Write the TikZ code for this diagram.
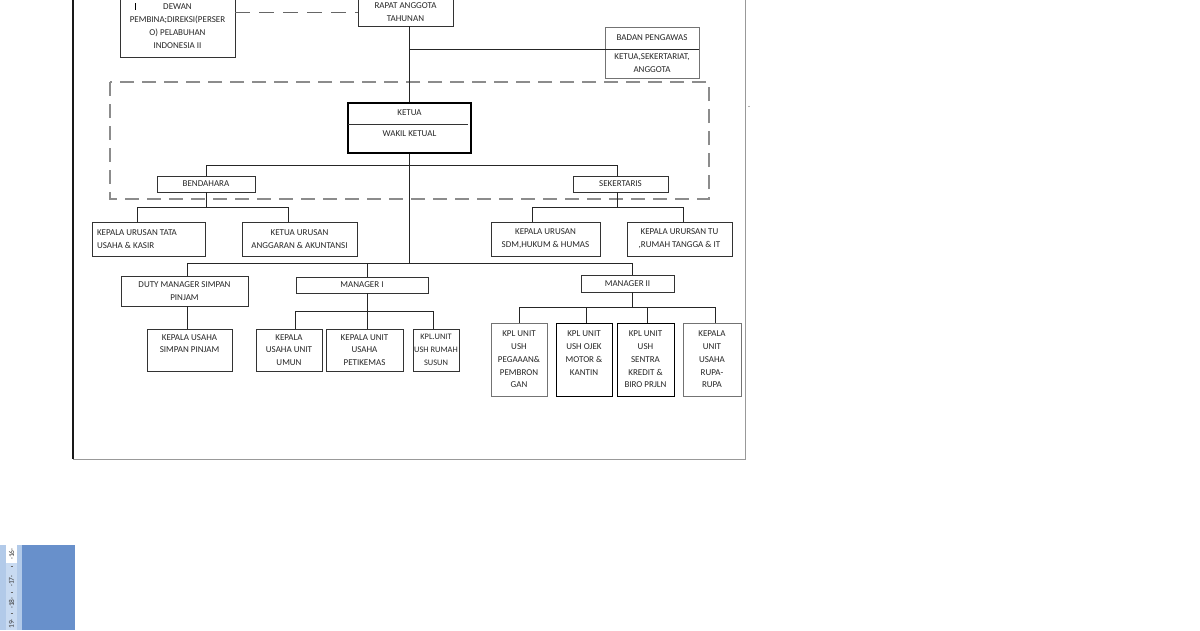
\documentclass[tikz,border=0pt]{standalone}
\usepackage{fontspec}
\setmainfont{Carlito}
\definecolor{rulerEdge}{HTML}{B2CAE9}
\definecolor{rulerLight}{HTML}{C8DAF1}
\definecolor{blueBlk}{HTML}{6890CB}
\newcommand{\orgbox}[7][]{\node[box,#1,minimum width={#4-#2},minimum height={#5-#3}] (#6) at ({(#2+#4)/2},{(#3+#5)/2}) {#7};}
\begin{document}
\begin{tikzpicture}[x=1pt,y=-1pt,
  font=\fontsize{9}{12.8}\selectfont, text=black!85,
  box/.style={draw=black!80, line width=0.8pt, inner sep=0pt, align=center},
  conn/.style={draw=black!85, line width=0.8pt},
  dsh/.style={draw=black!45, line width=1.1pt, dash pattern=on 14pt off 8pt},
  rnum/.style={font=\fontsize{7.5}{8}\selectfont, text=black!75, rotate=90, inner sep=0pt}]
\useasboundingbox (0,0) rectangle (1200,630);

% page frame
\draw[line width=1.2pt, black!90] (73,0) -- (73,459);
\draw[line width=1pt, black!40] (73,459) -- (745,459) -- (745,0);

% big dashed region
\draw[dsh] (110,82) rectangle (709,199);

% boxes
\orgbox{120}{-5}{235}{57}{dewan}{DEWAN\\PEMBINA;DIREKSI(PERSER\\O) PELABUHAN\\INDONESIA II}
\orgbox{358}{-1}{453}{26}{rapat}{RAPAT ANGGOTA\\TAHUNAN}
\orgbox[draw=black!55]{605}{27}{699}{49}{badan}{BADAN PENGAWAS}
\orgbox[draw=black!55]{605}{49}{699}{78}{badanb}{KETUA,SEKERTARIAT,\\ANGGOTA}
\orgbox[line width=1.4pt, draw=black]{348}{103}{471}{153}{ketua}{}
\node[inner sep=0pt] (ketuat) at (409.5,113) {KETUA};
\node[inner sep=0pt] (wakilt) at (409.5,134) {WAKIL KETUAL};
\draw[line width=0.8pt, black!80] (348,124) -- (468,124);
\orgbox{157}{176}{255}{192}{bend}{BENDAHARA}
\orgbox{573}{176}{668}{192}{sek}{SEKERTARIS}
\orgbox[text width=103pt, align=flush left]{92}{222}{205}{256}{tata}{KEPALA URUSAN TATA\\USAHA \& KASIR}
\orgbox{242}{222}{357}{256}{angg}{KETUA URUSAN\\ANGGARAN \& AKUNTANSI}
\orgbox{491}{222}{600}{256}{sdm}{KEPALA URUSAN\\SDM,HUKUM \& HUMAS}
\orgbox{627}{222}{732}{256}{tu}{KEPALA URURSAN TU\\,RUMAH TANGGA \& IT}
\orgbox{121}{276}{248}{306}{duty}{DUTY MANAGER SIMPAN\\PINJAM}
\orgbox{296}{277}{428}{293}{man1}{MANAGER I}
\orgbox{581}{275}{674}{292}{man2}{MANAGER II}
\orgbox{147}{329}{232}{371}{ksp}{KEPALA USAHA\\SIMPAN PINJAM\\\mbox{}}
\orgbox{256}{329}{322}{371}{umun}{KEPALA\\USAHA UNIT\\UMUN}
\orgbox{326}{329}{403}{371}{peti}{KEPALA UNIT\\USAHA\\PETIKEMAS}
\orgbox[font=\fontsize{8.4}{12.8}\selectfont]{413}{329}{459}{371}{rusun}{KPL.UNIT\\USH RUMAH\\SUSUN}
\orgbox[draw=black!55]{491}{323}{547}{396}{peg}{KPL UNIT\\USH\\PEGAAAN\&\\PEMBRON\\GAN}
\orgbox[draw=black]{556}{323}{612}{396}{ojek}{KPL UNIT\\USH OJEK\\MOTOR \&\\KANTIN\\\mbox{}}
\orgbox[draw=black]{617}{323}{674}{396}{sentra}{KPL UNIT\\USH\\SENTRA\\KREDIT \&\\BIRO PRJLN}
\orgbox[draw=black!55]{683}{323}{741}{396}{rupa}{KEPALA\\UNIT\\USAHA\\RUPA-\\RUPA}

% junction levels
\coordinate (l1) at (0,165);
\coordinate (l2) at (0,207);
\coordinate (l3) at (0,263);
\coordinate (l4) at (0,311);
\coordinate (l5) at (0,307);

% connectors
\draw[dsh, draw=black!60, line width=1pt, dash pattern=on 15pt off 9pt] (dewan.east |- rapat.center) -- (rapat.west |- rapat.center);
\draw[conn] (rapat.south -| ketua.north) -- (ketua.north);
\draw[conn] (ketua.north |- badan.south) -- (badan.south east);
\draw[conn] (ketua.south) -- (ketua.south |- l3);
\draw[conn] (bend.north) -- (bend.north |- l1) -- ([xshift=-3.5pt]sek.north |- l1) -- ([xshift=-3.5pt]sek.north);
\draw[conn] (bend.south) -- (bend.south |- l2);
\draw[conn] ([xshift=-11.5pt]tata.north) -- ([xshift=-11.5pt]tata.north |- l2) -- ([xshift=-11.5pt]angg.north |- l2) -- ([xshift=-11.5pt]angg.north);
\draw[conn] ([xshift=-3.5pt]sek.south) -- ([xshift=-3.5pt]sek.south |- l2);
\draw[conn] ([xshift=-13.5pt]sdm.north) -- ([xshift=-13.5pt]sdm.north |- l2) -- ([xshift=3.5pt]tu.north |- l2) -- ([xshift=3.5pt]tu.north);
\draw[conn] ([xshift=2.5pt]duty.north) -- ([xshift=2.5pt]duty.north |- l3) -- ([xshift=4.5pt]man2.north |- l3) -- ([xshift=4.5pt]man2.north);
\draw[conn] ([xshift=5pt]man1.north) -- ([xshift=5pt]man1.north |- l3);
\draw[conn] ([xshift=2.5pt]duty.south) -- ([xshift=2.5pt]duty.south |- ksp.north);
\draw[conn] ([xshift=5pt]man1.south) -- ([xshift=5pt]man1.south |- peti.north);
\draw[conn] ([xshift=6pt]umun.north) -- ([xshift=6pt]umun.north |- l4) -- ([xshift=-3pt]rusun.north |- l4) -- ([xshift=-3pt]rusun.north);
\draw[conn] ([xshift=4.5pt]man2.south) -- ([xshift=4.5pt]man2.south |- l5);
\draw[conn] (peg.north) -- (peg.north |- l5) -- ([xshift=3pt]rupa.north |- l5) -- ([xshift=3pt]rupa.north);
\draw[conn] ([xshift=2pt]ojek.north) -- ([xshift=2pt]ojek.north |- l5);
\draw[conn] ([xshift=1.5pt]sentra.north) -- ([xshift=1.5pt]sentra.north |- l5);

% text cursor and stray dot
\draw[line width=1.4pt, black] (135.5,3) -- (135.5,10);
\fill[black!60] (749,106.5) circle (0.6pt);

% ruler and blue panel at bottom left
\fill[rulerEdge] (0,545) rectangle (22,630);
\fill[rulerLight] (6,545) rectangle (17,630);
\fill[white] (6,545) rectangle (17,563);
\fill[blueBlk] (22,545) rectangle (75,630);
\node[rnum] (r16) at (11.5,554) {·16·};
\node[rnum] (r17) at (11.5,581) {·17·};
\node[rnum] (r18) at (11.5,603) {·18·};
\node[rnum] (r19) at (11.5,624) {19·};
\draw[black!60, line width=0.5pt] (10.5,566) -- (12.5,566);
\draw[black!60, line width=0.5pt] (10.5,592) -- (12.5,592);
\draw[black!60, line width=0.5pt] (10.5,613) -- (12.5,613);
\end{tikzpicture}
\end{document}
